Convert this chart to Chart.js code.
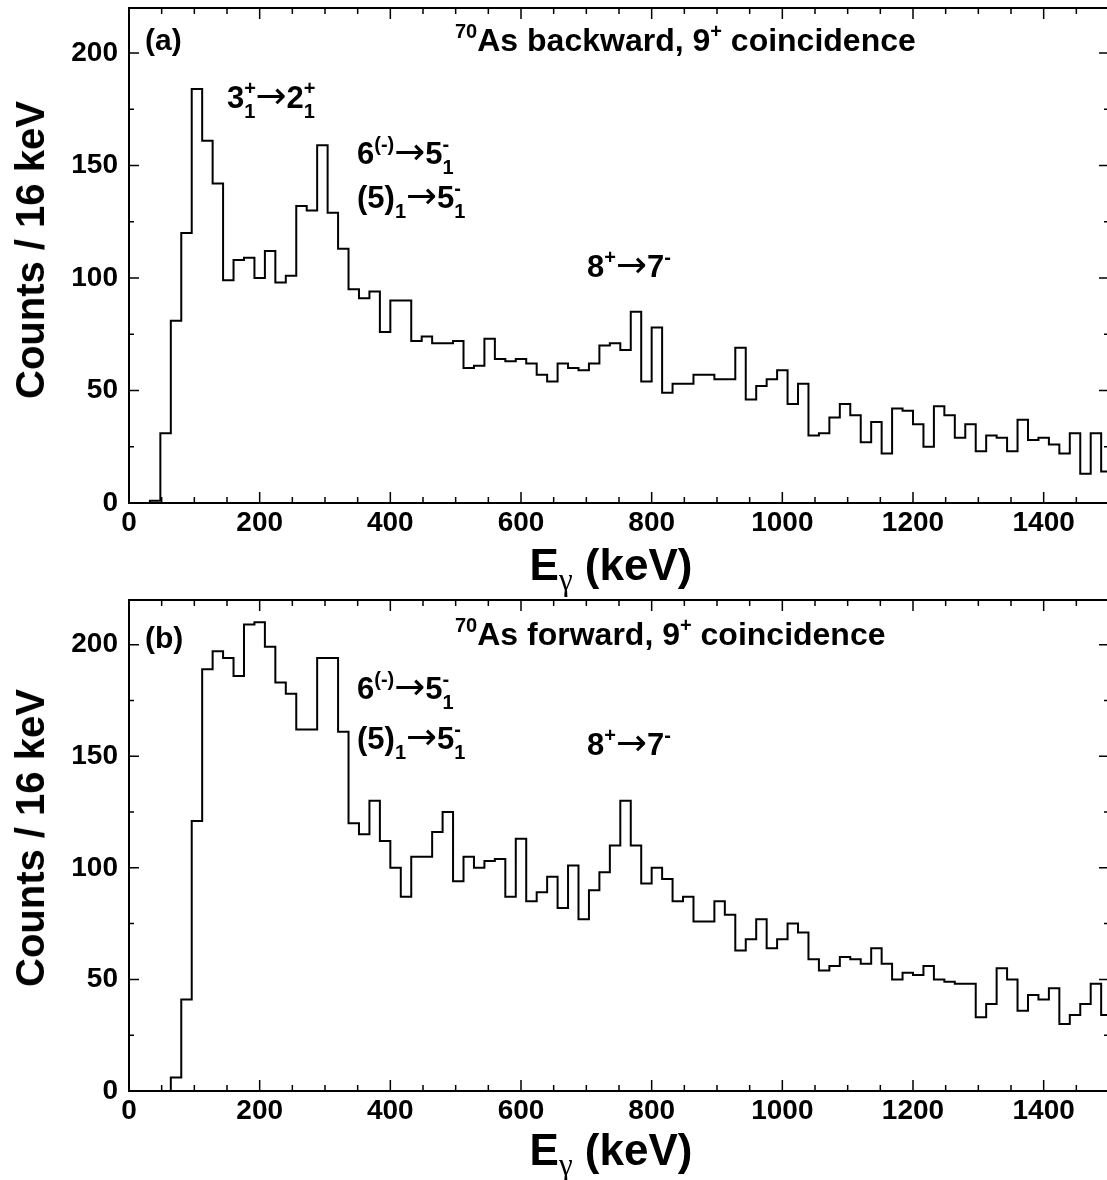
<!DOCTYPE html>
<html>
<head>
<meta charset="utf-8">
<script src="https://cdn.jsdelivr.net/npm/chart.js@4.4.1/dist/chart.umd.min.js"></script>
<style>
  html, body { margin: 0; padding: 0; background: #fff; overflow: hidden; }
  body { width: 1107px; height: 1180px; position: relative;
         font-family: "Liberation Sans", Arial, sans-serif; font-weight: bold; color: #000; }
  .panel { position: absolute; left: 0; }
  .lbl { position: absolute; white-space: nowrap; line-height: 1; }
  .arr { font-family: "DejaVu Sans", sans-serif; font-weight: normal; font-size: 37px; line-height: 0; }
  .u1 { position: relative; top: -13px; font-size: 20px; }
  .d1 { position: relative; top: 10px; font-size: 20px; }
  .st { display: inline-block; position: relative; font-size: 20px; }
  .st .d { position: relative; top: 10px; }
  .st .u { position: absolute; left: 0; top: -13px; }
  .tsup { position: relative; top: -13px; font-size: 20px; }
  .gsub { position: relative; top: 10px; font-size: 31px; font-family: "Liberation Serif", serif; font-weight: normal; line-height: 0; }
  .ytitle { position: absolute; white-space: nowrap; line-height: 1;
            transform: translate(-50%, -50%) rotate(-90deg); }
</style>
</head>
<body>
<div class="panel" style="top:0"><canvas id="chart-back" width="1110" height="590"></canvas></div>
<div class="panel" style="top:590px"><canvas id="chart-fwd" width="1110" height="590"></canvas></div>
<script>
// 16 keV bins starting at 0 keV
const binWidth = 16;
const energyMin = 0;
const energyMax = 1500;
const countsMax = 220;
const energyTickStep = 200;
const energyMinorStep = 50;
const countsTickStep = 50;
const countsMinorStep = 25;

// (a) 70As backward, 9+ coincidence
const backwardCounts = [
  0, 0, 1, 31, 81, 120, 184, 161, 142, 99,
  108, 109, 100, 112, 98, 101, 132, 130, 159, 129,
  113, 95, 91, 94, 76, 90, 90, 72, 74, 71,
  71, 72, 60, 61, 73, 64, 63, 64, 62, 57,
  54, 62, 60, 59, 62, 70, 71, 68, 85, 54,
  78, 49, 53, 53, 57, 57, 55, 55, 69, 46,
  52, 55, 59, 44, 53, 30, 31, 38, 44, 39,
  27, 36, 22, 42, 41, 35, 25, 43, 39, 29,
  35, 23, 30, 29, 23, 37, 28, 29, 26, 22,
  31, 13, 31, 14
];

// (b) 70As forward, 9+ coincidence
const forwardCounts = [
  0, 0, 0, 0, 6, 41, 121, 189, 197, 194,
  186, 209, 210, 199, 183, 178, 162, 162, 194, 194,
  161, 120, 115, 130, 112, 100, 87, 105, 105, 116,
  125, 94, 105, 100, 103, 104, 87, 113, 85, 89,
  96, 82, 101, 77, 90, 98, 110, 130, 110, 93,
  100, 95, 85, 87, 76, 76, 85, 79, 63, 68,
  77, 64, 68, 75, 71, 59, 54, 56, 60, 59,
  57, 64, 57, 50, 53, 52, 56, 50, 49, 48,
  48, 33, 39, 55, 50, 36, 43, 41, 46, 30,
  34, 39, 48, 34
];

const tickFont = { family: "Liberation Sans", size: 28, weight: "bold" };

// ROOT-style frame with inward major/minor ticks on all four sides
const frameTicks = {
  id: "frameTicks",
  afterDatasetsDraw(chart) {
    const { ctx, chartArea: a, scales: { x, y } } = chart;
    ctx.save();
    ctx.strokeStyle = "#000";
    ctx.lineWidth = 2;
    ctx.strokeRect(a.left, a.top, a.right - a.left, a.bottom - a.top);
    ctx.lineWidth = 1.5;
    ctx.beginPath();
    for (let v = energyMin; v <= energyMax; v += energyMinorStep) {
      const px = x.getPixelForValue(v);
      const len = v % energyTickStep === 0 ? 11 : 6;
      ctx.moveTo(px, a.bottom); ctx.lineTo(px, a.bottom - len);
      ctx.moveTo(px, a.top); ctx.lineTo(px, a.top + len);
    }
    for (let v = 0; v <= countsMax; v += countsMinorStep) {
      const py = y.getPixelForValue(v);
      const len = v % countsTickStep === 0 ? 10 : 5;
      ctx.moveTo(a.left, py); ctx.lineTo(a.left + len, py);
      ctx.moveTo(a.right, py); ctx.lineTo(a.right - len, py);
    }
    ctx.stroke();
    ctx.restore();
  },
};

function makePanel(id, counts, padTop, axisH) {
  const pts = counts.map((c, i) => ({ x: energyMin + i * binWidth, y: c }));
  // close the last bin
  pts.push({ x: energyMin + counts.length * binWidth, y: counts[counts.length - 1] });

  return new Chart(document.getElementById(id), {
    type: "line",
    data: {
      datasets: [{
        data: pts,
        stepped: true,
        borderColor: "#000",
        borderWidth: 2,
        pointRadius: 0,
        fill: false,
        tension: 0,
      }],
    },
    options: {
      responsive: false,
      animation: false,
      layout: { padding: { top: padTop, right: 1, left: 0, bottom: 0 } },
      plugins: { legend: { display: false }, tooltip: { enabled: false } },
      scales: {
        x: {
          type: "linear",
          min: energyMin,
          max: energyMax,
          afterFit(s) { s.height = axisH; s.paddingLeft = 0; s.paddingRight = 0; },
          ticks: {
            stepSize: energyTickStep, includeBounds: false, autoSkip: false,
            maxRotation: 0, padding: 3, color: "#000", font: tickFont,
            callback: (v) => String(v),
          },
          grid: { display: false, drawTicks: false },
          border: { display: false },
        },
        y: {
          min: 0,
          max: countsMax,
          afterFit(s) { s.width = 129; s.paddingTop = 0; s.paddingBottom = 0; },
          ticks: {
            stepSize: countsTickStep, includeBounds: false,
            padding: 11, color: "#000", font: tickFont,
            callback: (v) => String(v),
          },
          grid: { display: false, drawTicks: false },
          border: { display: false },
        },
      },
    },
    plugins: [frameTicks],
  });
}

makePanel("chart-back", backwardCounts, 8, 87);
makePanel("chart-fwd", forwardCounts, 10, 89);

// text overlays, placed by baseline
function place(html, left, baseline, size, center) {
  const d = document.createElement("div");
  d.className = "lbl";
  d.innerHTML = html;
  d.style.fontSize = size + "px";
  d.style.left = left + "px";
  d.style.top = (baseline - 0.8465 * size) + "px";
  if (center) d.style.transform = "translateX(-50%)";
  document.body.appendChild(d);
}

function yTitle(cx, cy) {
  const d = document.createElement("div");
  d.className = "ytitle";
  d.textContent = "Counts / 16 keV";
  d.style.fontSize = "40px";
  d.style.left = cx + "px";
  d.style.top = cy + "px";
  document.body.appendChild(d);
}

const arrow = '<span class="arr">→</span>';
const st = (u, d) => `<span class="st"><span class="d">${d}</span><span class="u">${u}</span></span>`;
const xTitle = 'E<span class="gsub">γ</span> (keV)';
const lbl65 = `6<span class="u1">(-)</span>${arrow}5${st("-", "1")}`;
const lbl55 = `(5)<span class="d1">1</span>${arrow}5${st("-", "1")}`;
const lbl87 = `8<span class="u1">+</span>${arrow}7<span class="u1">-</span>`;

// panel (a)
place("(a)", 145, 50, 30);
place('<span class="tsup">70</span>As backward, 9<span class="tsup">+</span> coincidence', 455, 51, 32);
place(`3${st("+", "1")}${arrow}2${st("+", "1")}`, 227, 108, 31);
place(lbl65, 357, 164, 31);
place(lbl55, 357, 208, 31);
place(lbl87, 587, 277, 31);
place(xTitle, 611, 580, 44, true);
yTitle(30, 250);

// panel (b)
place("(b)", 145, 648, 30);
place('<span class="tsup">70</span>As forward, 9<span class="tsup">+</span> coincidence', 455, 645, 32);
place(lbl65, 357, 699, 31);
place(lbl55, 357, 749, 31);
place(lbl87, 587, 755, 31);
place(xTitle, 611, 1165, 44, true);
yTitle(30, 838);
</script>
</body>
</html>
